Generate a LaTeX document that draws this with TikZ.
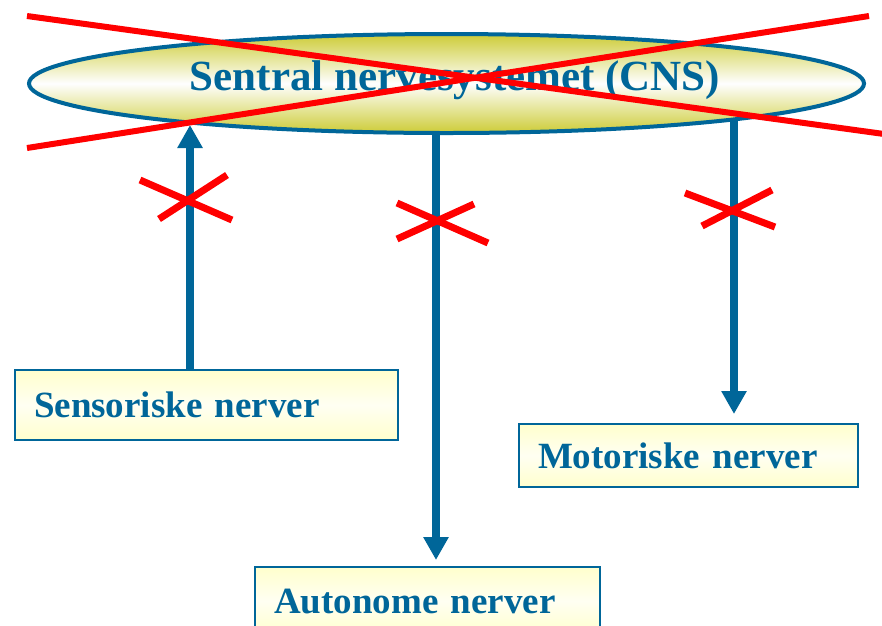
\documentclass[tikz,border=0pt]{standalone}
\usepackage{fontspec}
\setmainfont{Liberation Serif}
\usetikzlibrary{shapes.geometric,arrows.meta}
\definecolor{nblue}{RGB}{0,102,153}
\definecolor{olive}{RGB}{205,204,55}
\definecolor{lyel}{RGB}{255,255,205}
\definecolor{lwhite}{RGB}{255,255,242}
\tikzset{
  nbox/.style={rectangle, draw=nblue, line width=2pt, top color=lyel, bottom color=lyel, middle color=lwhite,
    anchor=north west, align=left, inner xsep=19pt, inner ysep=0pt, text height=25pt, text depth=0pt,
    text=nblue, font=\fontsize{37}{40}\selectfont\bfseries},
  arr/.style={draw=nblue, line width=8pt, -{Triangle[width=24pt,length=23pt]}},
  cross/.style={draw=red, line width=7pt},
  bigcross/.style={draw=red, line width=6pt}
}
\begin{document}
\begin{tikzpicture}[x=1pt,y=-1pt]
\useasboundingbox (0,0) rectangle (882,625);
\clip (0,0) rectangle (882,625);
% CNS ellipse
\node[ellipse, draw=nblue, line width=4pt, minimum width=835pt, minimum height=99pt, inner sep=0pt,
  top color=olive, bottom color=olive, middle color=white] (cns) at (446.5,83.5) {};
\node[anchor=base, text=nblue, font=\fontsize{43}{46}\selectfont\bfseries] (cnslabel) at (455,90) {Sentral nervesystemet (CNS)};
% boxes
\node[nbox, minimum width=383pt, minimum height=70pt, text width=345pt] (sens) at (14,369) {Sensoriske nerver};
\node[nbox, minimum width=339pt, minimum height=63pt, text width=301pt] (mot) at (518,423) {Motoriske nerver};
\node[nbox, minimum width=345pt, minimum height=68pt, text width=307pt] (aut) at (254,566) {Autonome nerver};
% connector ends on the ellipse
\coordinate (sensTop) at (190,125);
\coordinate (motTop) at (734,118);
\coordinate (autx) at (436,0);
\draw[arr] (sens.north -| sensTop) -- (sensTop);
\draw[arr, shorten >=6pt] (cns.south -| autx) -- (aut.north -| autx);
\draw[arr, shorten >=9pt] (motTop) -- (mot.north -| motTop);
% small crosses
\draw[cross] (140,180) -- (232,220);
\draw[cross] (159,219) -- (227,175);
\draw[cross] (397,203) -- (488,243);
\draw[cross] (397,239) -- (474,204);
\draw[cross] (685,193) -- (775,227);
\draw[cross] (702,226) -- (772,190);
% big cross
\draw[bigcross] (27,16) -- (884,134);
\draw[bigcross] (27,148) -- (869,16);
\end{tikzpicture}
\end{document}
